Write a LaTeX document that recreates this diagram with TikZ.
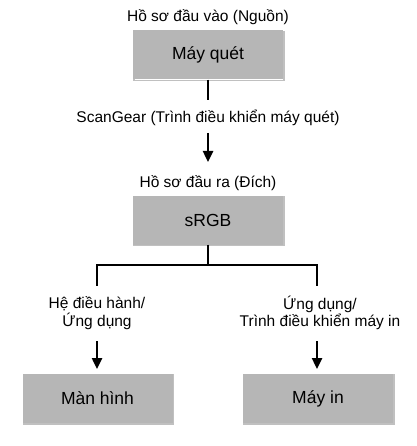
\documentclass[tikz,border=0pt]{standalone}
\usepackage{fontspec}
\setmainfont{Liberation Sans}
\usetikzlibrary{arrows.meta}
\definecolor{boxgray}{RGB}{182,182,182}
\definecolor{edgegray}{RGB}{130,130,130}
\begin{document}
\begin{tikzpicture}[x=1pt,y=-1pt,
  box/.style={fill=boxgray,minimum width=150pt,minimum height=49pt,inner sep=0pt,
    font=\fontsize{17.5}{20}\selectfont,
    preaction={draw=edgegray!50,line width=1.5pt,transform canvas={xshift=1pt,yshift=-1pt}}},
  lbl/.style={font=\fontsize{15.5}{17.5}\selectfont,align=center,inner sep=0pt},
  conn/.style={line width=2.4pt},
  arr/.style={line width=2.4pt,-{Triangle[length=11pt,width=10pt]}}]
\useasboundingbox (0,0) rectangle (416,446);
\node[lbl] (t1) at (208,17) {Hồ sơ đầu vào (Nguồn)};
\node[box] (b1) at (208,55) {Máy quét};
\coordinate (c1) at (208,100);
\node[lbl] (t2) at (208,118) {ScanGear (Trình điều khiển máy quét)};
\coordinate (a1) at (208,133);
\coordinate (a1e) at (208,162);
\node[lbl] (t3) at (208,183) {Hồ sơ đầu ra (Đích)};
\node[box] (b2) at (208,220) {sRGB};
\coordinate (j) at (208,265);
\coordinate (jl) at (97,265);
\coordinate (jr) at (317,265);
\coordinate (dl) at (97,285);
\coordinate (dr) at (317,285);
\node[lbl] (ll) at (97,313) {Hệ điều hành/\\Ứng dụng};
\node[lbl] (lr) at (320,313) {Ứng dụng/\\Trình điều khiển máy in};
\coordinate (al) at (97,341);
\coordinate (ale) at (97,369);
\coordinate (ar) at (317,341);
\coordinate (are) at (317,369);
\node[box] (b3) at (97.5,398.5) {Màn hình};
\node[box] (b4) at (318,398.5) {Máy in};
\draw[conn] (b1.south) -- (c1);
\draw[arr] (a1) -- (a1e);
\draw[conn] (b2.south) -- (j);
\draw[conn,line cap=rect] (dl) -- (jl) -- (jr) -- (dr);
\draw[arr] (al) -- (ale);
\draw[arr] (ar) -- (are);
\end{tikzpicture}
\end{document}
